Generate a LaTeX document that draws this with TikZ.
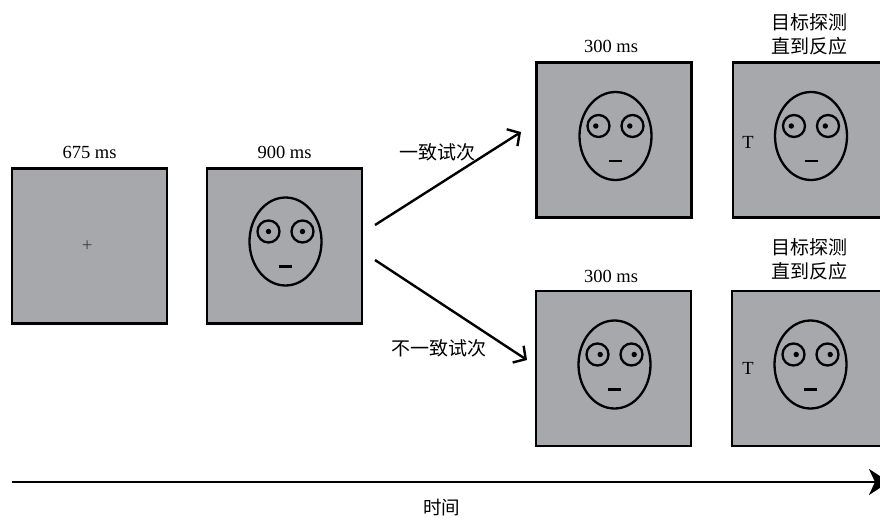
\documentclass[tikz,border=0pt]{standalone}
\usepackage{fontspec}
\setmainfont{Liberation Serif}
\newfontfamily\cjk{Noto Sans CJK SC}
\usetikzlibrary{arrows.meta}
\definecolor{boxgray}{HTML}{A7A8AC}
\tikzset{
  stim/.style={draw=black, line width=2.3pt, fill=boxgray, minimum size=155pt, inner sep=0pt},
  faceline/.style={line width=2.3pt},
  mslabel/.style={anchor=base, font=\fontsize{18.5pt}{22pt}\selectfont, inner sep=0pt},
  cjklabel/.style={anchor=base, font=\cjk\fontsize{19pt}{22pt}\selectfont, inner sep=0pt},
  trialarrow/.style={line width=2.4pt, -{Straight Barb[length=9pt,width=20pt,line width=2.4pt]}},
  timearrow/.style={line width=2.8pt, -{Stealth[length=20pt,width=26pt,inset=6pt]}},
  pics/face/.style={code={
    \draw[faceline] (0,0) ellipse[x radius=36pt, y radius=44pt];
    \draw[faceline] (-17,-10) circle[radius=11pt];
    \draw[faceline] (17,-10) circle[radius=11pt];
    \fill (-17+#1,-10) circle[radius=2.7pt];
    \fill (17+#1,-10) circle[radius=2.7pt];
    \draw[line width=2.8pt] (-6.5,25) -- (6.5,25);
  }}
}
\begin{document}
\begin{tikzpicture}[x=1pt,y=-1pt]
\useasboundingbox (0,0) rectangle (880,517);
\clip (0,0) rectangle (880,517);
% stimulus screens
\node[stim] (b1) at (89.5,246) {};
\node[stim] (b2) at (284.5,246) {};
\node[stim] (b3) at (614,140) {};
\node[stim] (b4) at (810.5,140) {};
\node[stim] (b5) at (613.5,368.5) {};
\node[stim] (b6) at (809.5,368.5) {};
% fixation
\node[anchor=base, font=\fontsize{19pt}{19pt}\selectfont, inner sep=0pt, text=black!75] (fix) at (87.2,251) {+};
% faces
\pic at (285.5,241.5) {face=0};
\pic at (615.5,136) {face=-2.7};
\pic at (811,136) {face=-2.7};
\pic at (614.5,364.5) {face=2.7};
\pic at (810.5,364.5) {face=2.7};
% targets
\node[mslabel] (t1) at (748,148) {T};
\node[mslabel] (t2) at (748,374) {T};
% duration labels
\node[mslabel] (l1) at (89.5,158) {675 ms};
\node[mslabel] (l2) at (284.5,158) {900 ms};
\node[mslabel] (l3) at (611,52) {300 ms};
\node[mslabel] (l4) at (611,282) {300 ms};
\node[cjklabel] (l5a) at (809,29) {目标探测};
\node[cjklabel] (l5b) at (809,53.5) {直到反应};
\node[cjklabel] (l6a) at (809,254) {目标探测};
\node[cjklabel] (l6b) at (809,278.5) {直到反应};
% trial arrows
\coordinate (a1s) at (375,225);
\coordinate (a1e) at (521,132);
\coordinate (a2s) at (375,260);
\coordinate (a2e) at (527,360);
\draw[trialarrow] (a1s) -- (a1e);
\draw[trialarrow] (a2s) -- (a2e);
\node[cjklabel] (c1) at (437,159.5) {一致试次};
\node[cjklabel] (c2) at (439,355.5) {不一致试次};
% time axis
\coordinate (ts) at (11.5,482);
\coordinate (te) at (889,482);
\draw[timearrow] (ts) -- (te);
\node[cjklabel, font=\cjk\fontsize{18.5pt}{22pt}\selectfont] (time) at (441.5,514) {时间};
\end{tikzpicture}
\end{document}
